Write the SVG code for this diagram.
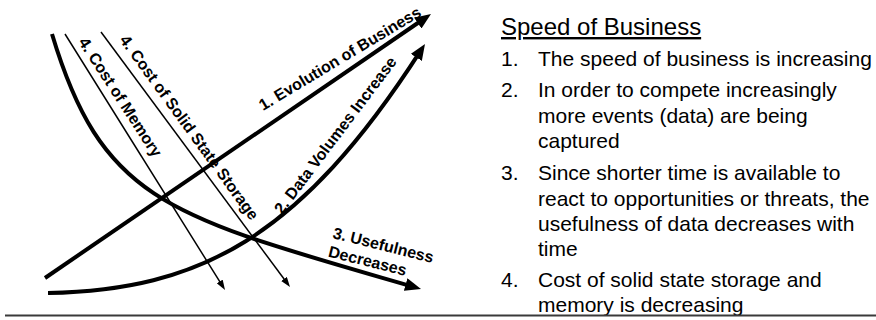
<svg xmlns="http://www.w3.org/2000/svg" width="876" height="320" viewBox="0 0 876 320">
<style>
.thick{fill:none;stroke:#000;stroke-width:4}
.thin{fill:none;stroke:#000;stroke-width:1.5}
.lbl{font-family:"Liberation Sans",Arial,sans-serif;font-weight:bold;font-size:16px;fill:#000}
.body{font-family:"Liberation Sans",Arial,sans-serif;font-size:21px;fill:#000}
.title{font-family:"Liberation Sans",Arial,sans-serif;font-size:24px;fill:#000}
</style>
<defs>
<marker id="bigArrow" markerUnits="userSpaceOnUse" markerWidth="18" markerHeight="14" refX="8" refY="6.5" orient="auto">
<path d="M0,0 L16,6.5 L0,13 z" fill="#000"/>
</marker>
<marker id="smallArrow" markerUnits="userSpaceOnUse" markerWidth="12" markerHeight="8" refX="6" refY="3.5" orient="auto">
<path d="M0,0 L10,3.5 L0,7 z" fill="#000"/>
</marker>
</defs>
<g id="connectors">
<path id="evolution-line" class="thick" d="M45,278 L424.4,18.5" marker-end="url(#bigArrow)"/>
<path id="data-curve" class="thick" d="M48,293 C200,290 300,238 420.7,50.7" marker-end="url(#bigArrow)"/>
<path id="usefulness-curve" class="thick" d="M52,34 C103,204 171,216.5 413.3,286.8" marker-end="url(#bigArrow)"/>
<path id="memory-line" class="thin" d="M65,34 L222.9,286.6" marker-end="url(#smallArrow)"/>
<path id="sss-line" class="thin" d="M101,32 L287.6,283.8" marker-end="url(#smallArrow)"/>
</g>
<g id="evolution">
<text class="lbl" transform="translate(263,111) rotate(-31)">1. Evolution of Business</text>
</g>
<g id="data-volumes">
<text class="lbl" transform="translate(282,215) rotate(-53)">2. Data Volumes Increase</text>
</g>
<g id="usefulness">
<text class="lbl" transform="translate(332,238) rotate(14)"><tspan x="0" y="0">3. Usefulness</tspan><tspan x="0" y="19">Decreases</tspan></text>
</g>
<g id="cost-memory">
<text class="lbl" transform="translate(78,42) rotate(57)">4. Cost of Memory</text>
</g>
<g id="cost-sss">
<text class="lbl" transform="translate(119,40) rotate(54)">4. Cost of Solid State Storage</text>
</g>
<g id="text-panel">
<text class="title" x="501" y="35" text-decoration="underline">Speed of Business</text>
<text class="body">
<tspan x="501" y="66">1.</tspan><tspan x="538" y="66">The speed of business is increasing</tspan>
<tspan x="501" y="97">2.</tspan><tspan x="538" y="97">In order to compete increasingly</tspan>
<tspan x="538" y="123">more events (data) are being</tspan>
<tspan x="538" y="148">captured</tspan>
<tspan x="501" y="180">3.</tspan><tspan x="538" y="180">Since shorter time is available to</tspan>
<tspan x="538" y="206">react to opportunities or threats, the</tspan>
<tspan x="538" y="231">usefulness of data decreases with</tspan>
<tspan x="538" y="256">time</tspan>
<tspan x="501" y="287">4.</tspan><tspan x="538" y="287">Cost of solid state storage and</tspan>
<tspan x="538" y="312">memory is decreasing</tspan>
</text>
</g>
<line id="bottom-rule" x1="5" y1="315.5" x2="876" y2="315.5" stroke="#3a3a3a" stroke-width="2"/>
</svg>
